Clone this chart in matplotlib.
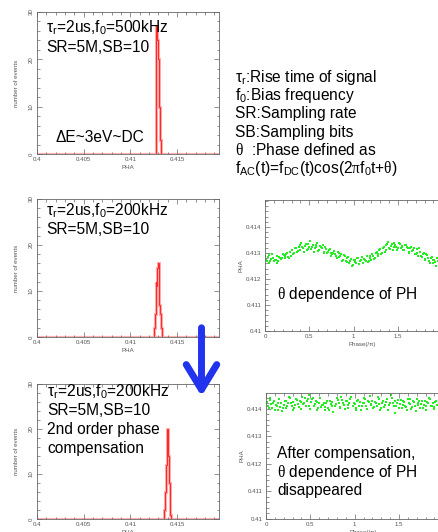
import matplotlib
matplotlib.use("Agg")
import matplotlib.pyplot as plt
from matplotlib.patches import FancyArrowPatch
from matplotlib.ticker import MultipleLocator

plt.rcParams['font.family'] = ['Liberation Sans', 'DejaVu Sans']
plt.rcParams['mathtext.fontset'] = 'custom'
plt.rcParams['mathtext.rm'] = 'Liberation Sans'
plt.rcParams['mathtext.it'] = 'Liberation Sans:italic'
plt.rcParams['mathtext.bf'] = 'Liberation Sans:bold'
plt.rcParams['mathtext.sf'] = 'Liberation Serif'

W, H = 438, 532

# ---------------- data ----------------
# histograms (PHA bin edges and counts)
h1_edges = [0.4127, 0.4128, 0.4129, 0.4130, 0.4131, 0.4132, 0.4133]
h1_counts = [7, 27, 24, 20, 10, 3]
h2_edges = [0.4125, 0.4126, 0.4127, 0.4128, 0.4129, 0.4130, 0.4131, 0.4132, 0.4133, 0.4134]
h2_counts = [2, 5, 12, 11, 15, 16, 7, 5, 2]
h3_edges = [0.4136, 0.4137, 0.4138, 0.4139, 0.4140, 0.4141, 0.4142, 0.4143, 0.4144]
h3_counts = [2, 6, 12, 20, 14, 8, 4, 1]

# scatter: theta dependence of PH (before compensation)
phase_a = [0.00, 0.02, 0.03, 0.05, 0.07, 0.08, 0.10, 0.12, 0.13, 0.15, 0.17, 0.19,
           0.21, 0.22, 0.24, 0.26, 0.28, 0.29, 0.31, 0.33, 0.35, 0.36, 0.38, 0.40,
           0.41, 0.43, 0.45, 0.47, 0.48, 0.50, 0.52, 0.54, 0.55, 0.57, 0.59, 0.61, 0.62,
           0.64, 0.66, 0.68, 0.70, 0.72, 0.74, 0.76, 0.78, 0.80, 0.82,
           0.84, 0.86, 0.88, 0.90, 0.92, 0.93, 0.95, 0.97, 0.99, 1.01, 1.03, 1.05,
           1.07, 1.09, 1.11, 1.13, 1.15, 1.17, 1.19, 1.21, 1.23, 1.25,
           1.27, 1.29, 1.31, 1.33, 1.35, 1.37, 1.39, 1.41, 1.43, 1.45,
           1.47, 1.49, 1.51, 1.53, 1.55, 1.57, 1.59, 1.61, 1.63, 1.65,
           1.67, 1.69, 1.71, 1.73, 1.75, 1.77, 1.79, 1.81, 1.83, 1.85,
           1.87, 1.89, 1.91, 1.93, 1.95,
           0.01, 0.04, 0.06, 0.09, 0.11, 0.14, 0.16, 0.18, 0.20, 0.23,
           0.25, 0.27, 0.30, 0.32, 0.34, 0.37, 0.39, 0.42, 0.44, 0.46,
           0.49, 0.51, 0.53, 0.56, 0.58, 0.60, 0.63, 0.65, 0.67, 0.69,
           0.71, 0.73, 0.75, 0.77, 0.79, 0.81, 0.83, 0.85, 0.87, 0.89,
           0.91, 0.94, 0.96, 0.98, 1.00, 1.02, 1.04, 1.06, 1.08, 1.10,
           1.12, 1.14, 1.16, 1.18, 1.20, 1.22, 1.24, 1.26, 1.28, 1.30,
           1.32, 1.34, 1.36, 1.38, 1.40, 1.42, 1.44, 1.46, 1.48, 1.50,
           1.52, 1.54, 1.56, 1.58, 1.60, 1.62, 1.64, 1.66, 1.68, 1.70,
           1.72, 1.74, 1.76, 1.78, 1.80, 1.82, 1.84, 1.86, 1.88, 1.90,
           1.92, 1.94, 1.96]
pha_a = [0.41290, 0.41270, 0.41285, 0.41262, 0.41278, 0.41295, 0.41268, 0.41275, 0.41288, 0.41270, 0.41282, 0.41280,
         0.41292, 0.41280, 0.41298, 0.41285, 0.41305, 0.41290, 0.41310, 0.41300, 0.41318, 0.41305, 0.41325, 0.41312,
         0.41340, 0.41318, 0.41328, 0.41310, 0.41335, 0.41322, 0.41315, 0.41330, 0.41305, 0.41325, 0.41338, 0.41312, 0.41328,
         0.41318, 0.41305, 0.41325, 0.41300, 0.41310, 0.41302, 0.41295, 0.41308, 0.41290, 0.41305,
         0.41285, 0.41298, 0.41275, 0.41288, 0.41265, 0.41280, 0.41262, 0.41278, 0.41255, 0.41272, 0.41260, 0.41280,
         0.41268, 0.41285, 0.41262, 0.41275, 0.41290, 0.41270, 0.41282, 0.41295, 0.41278, 0.41300,
         0.41290, 0.41310, 0.41298, 0.41318, 0.41305, 0.41330, 0.41342, 0.41315, 0.41335, 0.41322,
         0.41330, 0.41312, 0.41338, 0.41320, 0.41328, 0.41310, 0.41332, 0.41318, 0.41305, 0.41325,
         0.41310, 0.41298, 0.41315, 0.41290, 0.41305, 0.41285, 0.41300, 0.41278, 0.41292, 0.41270,
         0.41282, 0.41260, 0.41275, 0.41250, 0.41268,
         0.41275, 0.41292, 0.41268, 0.41282, 0.41272, 0.41260, 0.41285, 0.41278, 0.41295, 0.41288,
         0.41300, 0.41282, 0.41312, 0.41295, 0.41320, 0.41308, 0.41330, 0.41322, 0.41305, 0.41335,
         0.41315, 0.41345, 0.41325, 0.41318, 0.41332, 0.41308, 0.41322, 0.41330, 0.41300, 0.41315,
         0.41305, 0.41315, 0.41290, 0.41302, 0.41298, 0.41280, 0.41302, 0.41288, 0.41270, 0.41292,
         0.41270, 0.41285, 0.41268, 0.41250, 0.41275, 0.41265, 0.41282, 0.41258, 0.41272, 0.41262,
         0.41278, 0.41270, 0.41265, 0.41288, 0.41272, 0.41290, 0.41282, 0.41305, 0.41295, 0.41315,
         0.41302, 0.41325, 0.41310, 0.41335, 0.41320, 0.41328, 0.41312, 0.41340, 0.41322, 0.41318,
         0.41335, 0.41322, 0.41312, 0.41330, 0.41325, 0.41300, 0.41318, 0.41308, 0.41320, 0.41298,
         0.41302, 0.41318, 0.41290, 0.41295, 0.41275, 0.41298, 0.41280, 0.41262, 0.41285, 0.41272,
         0.41265, 0.41282, 0.41258]

# scatter: after compensation
phase_b = [0.01, 0.02, 0.04, 0.06, 0.07, 0.09, 0.11, 0.13, 0.14, 0.16,
           0.18, 0.20, 0.22, 0.23, 0.25, 0.27, 0.29, 0.30, 0.32, 0.34,
           0.36, 0.38, 0.39, 0.41, 0.43, 0.45, 0.47, 0.49, 0.51, 0.53,
           0.54, 0.56, 0.58, 0.60, 0.62, 0.64, 0.66, 0.68, 0.70, 0.72,
           0.74, 0.76, 0.79, 0.81, 0.83, 0.85, 0.87, 0.89, 0.91, 0.93,
           0.95, 0.97, 0.99, 1.01, 1.03, 1.05, 1.07, 1.09, 1.11, 1.13,
           1.15, 1.17, 1.19, 1.21, 1.23, 1.25, 1.27, 1.29, 1.31, 1.33,
           1.35, 1.37, 1.39, 1.41, 1.43, 1.45, 1.47, 1.49, 1.51, 1.53,
           1.55, 1.57, 1.59, 1.61, 1.63, 1.65, 1.67, 1.69, 1.71, 1.73,
           1.75, 1.77, 1.79, 1.81, 1.83, 1.85, 1.87, 1.89, 1.91, 1.93,
           1.95,
           0.00, 0.03, 0.05, 0.08, 0.10, 0.12, 0.15, 0.17, 0.19, 0.21,
           0.24, 0.26, 0.28, 0.31, 0.33, 0.35, 0.37, 0.40, 0.42, 0.44,
           0.46, 0.48, 0.50, 0.52, 0.55, 0.57, 0.59, 0.61, 0.63, 0.65,
           0.67, 0.69, 0.71, 0.73, 0.75, 0.78, 0.80, 0.82, 0.84, 0.86,
           0.88, 0.90, 0.92, 0.94, 0.96, 0.98, 1.00, 1.02, 1.04, 1.06,
           1.08, 1.10, 1.12, 1.14, 1.16, 1.18, 1.20, 1.22, 1.24, 1.26,
           1.28, 1.30, 1.32, 1.34, 1.36, 1.38, 1.40, 1.42, 1.44, 1.46,
           1.48, 1.50, 1.52, 1.54, 1.56, 1.58, 1.60, 1.62, 1.64, 1.66,
           1.68, 1.70, 1.72, 1.74, 1.76, 1.78, 1.80, 1.82, 1.84, 1.86,
           1.88, 1.90, 1.92]
pha_b = [0.41425, 0.41410, 0.41432, 0.41418, 0.41405, 0.41428, 0.41415, 0.41398, 0.41420, 0.41408,
         0.41392, 0.41415, 0.41430, 0.41402, 0.41422, 0.41440, 0.41412, 0.41425, 0.41405, 0.41435,
         0.41418, 0.41428, 0.41400, 0.41445, 0.41420, 0.41410, 0.41438, 0.41452, 0.41425, 0.41440,
         0.41412, 0.41430, 0.41398, 0.41422, 0.41408, 0.41415, 0.41395, 0.41420, 0.41405, 0.41428,
         0.41412, 0.41390, 0.41418, 0.41432, 0.41408, 0.41445, 0.41422, 0.41400, 0.41428, 0.41415,
         0.41435, 0.41458, 0.41420, 0.41405, 0.41428, 0.41412, 0.41398, 0.41422, 0.41440, 0.41410,
         0.41430, 0.41448, 0.41418, 0.41402, 0.41425, 0.41412, 0.41435, 0.41395, 0.41420, 0.41408,
         0.41425, 0.41438, 0.41415, 0.41450, 0.41422, 0.41385, 0.41410, 0.41432, 0.41418, 0.41405,
         0.41428, 0.41412, 0.41398, 0.41420, 0.41435, 0.41408, 0.41425, 0.41392, 0.41415, 0.41430,
         0.41418, 0.41402, 0.41428, 0.41410, 0.41422, 0.41438, 0.41412, 0.41400, 0.41425, 0.41415,
         0.41420,
         0.41418, 0.41405, 0.41440, 0.41422, 0.41395, 0.41412, 0.41435, 0.41420, 0.41402, 0.41428,
         0.41410, 0.41445, 0.41422, 0.41398, 0.41415, 0.41432, 0.41408, 0.41425, 0.41418, 0.41440,
         0.41428, 0.41412, 0.41400, 0.41435, 0.41418, 0.41425, 0.41405, 0.41440, 0.41415, 0.41422,
         0.41408, 0.41430, 0.41395, 0.41418, 0.41425, 0.41412, 0.41440, 0.41420, 0.41402, 0.41432,
         0.41415, 0.41428, 0.41405, 0.41422, 0.41442, 0.41410, 0.41418, 0.41398, 0.41432, 0.41425,
         0.41412, 0.41420, 0.41438, 0.41400, 0.41425, 0.41415, 0.41430, 0.41408, 0.41422, 0.41442,
         0.41418, 0.41405, 0.41428, 0.41415, 0.41435, 0.41398, 0.41422, 0.41440, 0.41410, 0.41428,
         0.41420, 0.41402, 0.41432, 0.41415, 0.41425, 0.41408, 0.41438, 0.41418, 0.41400, 0.41428,
         0.41412, 0.41435, 0.41420, 0.41405, 0.41430, 0.41415, 0.41398, 0.41425, 0.41440, 0.41410,
         0.41422, 0.41408, 0.41430]

hist_xticks = [0.4, 0.405, 0.41, 0.415]
hist_xticklabels = ['0.4', '0.405', '0.41', '0.415']
hist_yticks = [0, 10, 20, 30]
sc_xticks = [0, 0.5, 1, 1.5]
sc_xticklabels = ['0', '0.5', '1', '1.5']
sc_yticks = [0.41, 0.411, 0.412, 0.413, 0.414]
sc_yticklabels = ['0.41', '0.411', '0.412', '0.413', '0.414']

# ---------------- drawing ----------------
fig = plt.figure(figsize=(W / 100, H / 100), dpi=100)
fig.patch.set_facecolor('white')

AX_C = '#666666'
TXT_C = '#555555'
RED = '#ff2a2a'
PINK = '#ffb0b0'
GREEN = '#22ee22'
BIG = 11.2


def rect(l, t, r, b):
    return [l / W, 1 - b / H, (r - l) / W, (b - t) / H]


def px(x, y):
    return (x / W, 1 - y / H)


def style(ax):
    for s in ax.spines.values():
        s.set_color(AX_C)
        s.set_linewidth(0.6)
    ax.tick_params(which='both', direction='in', top=True, right=True,
                   colors=AX_C, labelcolor=TXT_C, labelsize=4.4, width=0.5)
    ax.tick_params(which='major', length=3.5, pad=2.5)
    ax.tick_params(which='minor', length=1.8)


def hist_panel(rc, edges, counts):
    ax = fig.add_axes(rc)
    style(ax)
    ax.axhline(0, color=PINK, lw=1.6, zorder=1)
    ax.stairs(counts, edges, color=PINK, lw=2.2, zorder=2)
    ax.stairs(counts, edges, color=RED, lw=0.8, zorder=3)
    ax.set_xlim(0.4, 0.4195)
    ax.set_ylim(0, 30)
    ax.set_xticks(hist_xticks)
    ax.set_xticklabels(hist_xticklabels)
    ax.set_yticks(hist_yticks)
    ax.set_yticklabels([str(v) for v in hist_yticks], rotation=90, va='center')
    ax.xaxis.set_minor_locator(MultipleLocator(0.001))
    ax.yaxis.set_minor_locator(MultipleLocator(2))
    ax.set_xlabel('PHA', fontsize=4.4, color=TXT_C, labelpad=2)
    ax.set_ylabel('number of events', fontsize=4.4, color=TXT_C, labelpad=7)
    return ax


def scatter_panel(rc, x, y, ytop, xright):
    ax = fig.add_axes(rc)
    style(ax)
    ax.scatter(x, y, s=1.1, c=GREEN, marker='s', linewidths=0)
    ax.set_xlim(0, xright)
    ax.set_ylim(0.41, ytop)
    ax.set_xticks(sc_xticks)
    ax.set_xticklabels(sc_xticklabels)
    ax.set_yticks(sc_yticks)
    ax.set_yticklabels(sc_yticklabels)
    ax.xaxis.set_minor_locator(MultipleLocator(0.1))
    ax.yaxis.set_minor_locator(MultipleLocator(0.0002))
    ax.set_xlabel('Phase(/\u03c0)', fontsize=4.4, color=TXT_C, labelpad=2)
    ax.set_ylabel('PHA', fontsize=4.4, color=TXT_C, labelpad=2)
    return ax


hist_panel(rect(37, 12, 219, 154), h1_edges, h1_counts)
hist_panel(rect(37, 199, 219, 337), h2_edges, h2_counts)
hist_panel(rect(37, 384, 219, 519), h3_edges, h3_counts)
scatter_panel(rect(265, 200, 460, 331), phase_a, pha_a, 0.41504, 2.2)
scatter_panel(rect(266, 393, 461, 519), phase_b, pha_b, 0.41458, 2.2)


def t(x, y, s):
    fig.text(*px(x, y), s, fontsize=BIG, color='black', ha='left', va='baseline', zorder=10)


TH = '$\\mathsf{\u03b8}$'
PI = '$\\mathsf{\u03c0}$'

# histogram annotations
t(46, 32, '\u03c4$_\\mathrm{r}$=2us,f$_\\mathrm{0}$=500kHz')
t(46, 52, 'SR=5M,SB=10')
t(56, 142, '\u0394E~3eV~DC')
t(46, 215, '\u03c4$_\\mathrm{r}$=2us,f$_\\mathrm{0}$=200kHz')
t(46, 234, 'SR=5M,SB=10')
t(47, 396, '\u03c4$_\\mathrm{r}$=2us,f$_\\mathrm{0}$=200kHz')
t(47, 415, 'SR=5M,SB=10')
t(47, 434, '2nd order phase')
t(47, 453, 'compensation')

# legend text block
t(235, 82, '\u03c4$_\\mathrm{r}$:Rise time of signal')
t(235, 100, 'f$_\\mathrm{0}$:Bias frequency')
t(235, 118, 'SR:Sampling rate')
t(235, 137, 'SB:Sampling bits')
t(235, 155, TH + '  :Phase defined as')
t(235, 173, 'f$_\\mathrm{AC}$(t)=f$_\\mathrm{DC}$(t)cos(2' + PI + 'f$_\\mathrm{0}$t+' + TH + ')')

# scatter annotations
t(277, 299, TH + ' dependence of PH')
t(277, 458, 'After compensation,')
t(277, 477, TH + ' dependence of PH')
t(277, 495, 'disappeared')

# blue arrow
arrow = FancyArrowPatch(px(201.5, 325), px(201.5, 399),
                        transform=fig.transFigure,
                        arrowstyle='->,head_length=0.9,head_width=0.55',
                        mutation_scale=20, color='#2233ee', lw=5,
                        capstyle='round', joinstyle='round', zorder=20)
fig.add_artist(arrow)

fig.savefig('out.png', dpi=100)
